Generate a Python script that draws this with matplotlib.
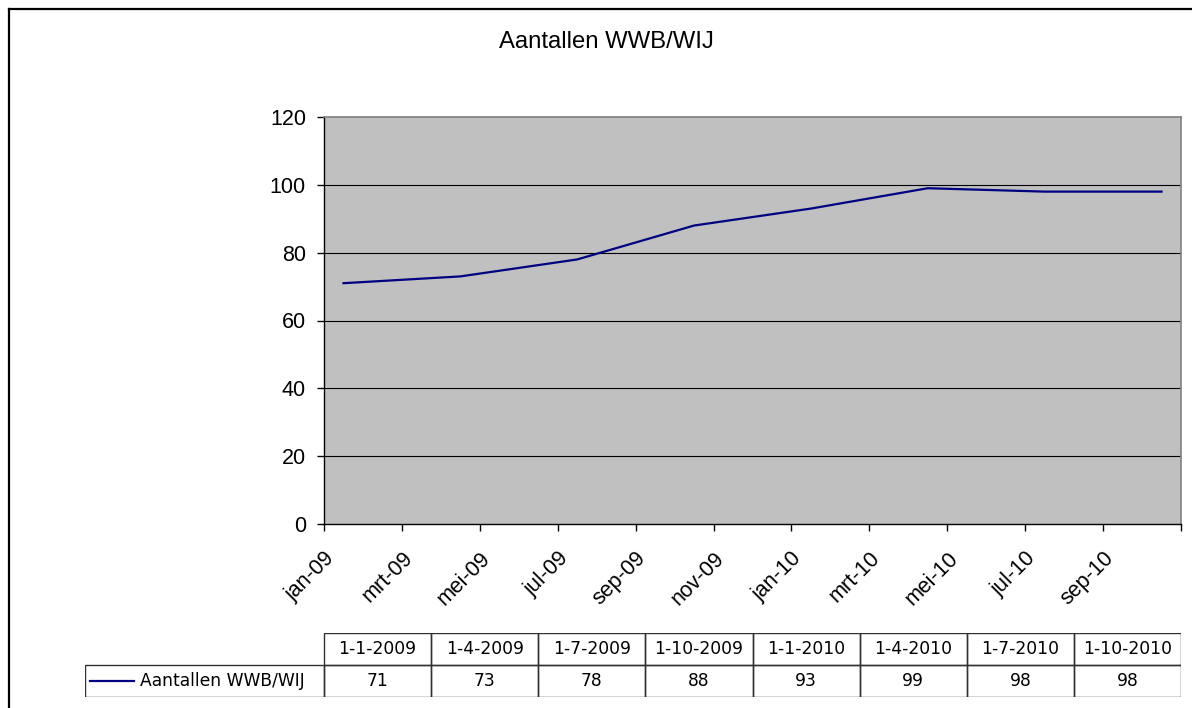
import matplotlib
matplotlib.use("Agg")
import matplotlib.pyplot as plt
from matplotlib.transforms import ScaledTranslation
from matplotlib.lines import Line2D
from matplotlib.patches import Rectangle

# ---- data ----
title = "Aantallen WWB/WIJ"
series_name = "Aantallen WWB/WIJ"
dates = ["1-1-2009", "1-4-2009", "1-7-2009", "1-10-2009",
         "1-1-2010", "1-4-2010", "1-7-2010", "1-10-2010"]
values = [71, 73, 78, 88, 93, 99, 98, 98]
month_labels = ["jan-09", "mrt-09", "mei-09", "jul-09", "sep-09", "nov-09",
                "jan-10", "mrt-10", "mei-10", "jul-10", "sep-10"]
y_ticks = [0, 20, 40, 60, 80, 100, 120]

# month slot index relative to jan-2009 (Excel date axis, base unit = month)
def month_index(d):
    day, mon, yr = (int(p) for p in d.split("-"))
    return (yr - 2009) * 12 + (mon - 1)

x_vals = [month_index(d) + 0.5 for d in dates]
n_slots = month_index(dates[-1]) + 1

W, H = 1192, 708
fig = plt.figure(figsize=(W / 100, H / 100), dpi=100)
fig.patch.set_facecolor("white")

def fx(px):
    return px / W

def fy(py):
    return 1 - py / H

# outer border (only top & left visible)
fig.add_artist(Line2D([fx(8.5), fx(8.5)], [fy(8.5), -0.05], color="black", lw=1.6,
                      transform=fig.transFigure))
fig.add_artist(Line2D([fx(8.5), 1.05], [fy(8.5), fy(8.5)], color="black", lw=1.6,
                      transform=fig.transFigure))

# title
fig.text(fx(606), fy(42), title, ha="center", va="center",
         fontsize=17.2, family="Liberation Sans")

# ---- chart ----
L, T, R, B = 324, 117, 1181, 524
ax = fig.add_axes([fx(L), fy(B), fx(R - L), (B - T) / H])
ax.set_facecolor("#C0C0C0")
ax.set_xlim(0, n_slots)
ax.set_ylim(0, 120)
ax.set_yticks(y_ticks)
ax.set_yticklabels([str(v) for v in y_ticks], fontsize=15.5, family="Liberation Sans")
for g in y_ticks[1:-1]:
    ax.axhline(g, color="black", lw=0.8, zorder=1)

ax.plot(x_vals, values, color="#000080", lw=1.6, zorder=3, solid_joinstyle="round")

for s in ["top", "right"]:
    ax.spines[s].set_color("#808080")
    ax.spines[s].set_linewidth(1.2)
for s in ["left", "bottom"]:
    ax.spines[s].set_color("black")
    ax.spines[s].set_linewidth(1.0)

ax.tick_params(axis="y", direction="out", length=5, width=1, pad=8, colors="black")
ax.set_xticks(list(range(0, n_slots + 1, 2)))
ax.set_xticklabels([])
ax.tick_params(axis="x", direction="out", length=5, width=1)

trans = ax.get_xaxis_transform() + ScaledTranslation(0.0, -0.24, fig.dpi_scale_trans)
for i, lab in enumerate(month_labels):
    ax.text(i * 2, 0, lab, transform=trans, rotation=45, ha="right", va="top",
            rotation_mode="anchor", fontsize=15.5, family="Liberation Sans")

# ---- data table (drawn as cells) ----
TL, TT, TR, TB = 85, 633, 1181, 697
tax = fig.add_axes([fx(TL), fy(TB), fx(TR - TL), (TB - TT) / H])
tax.set_axis_off()
tax.set_xlim(TL, TR)
tax.set_ylim(TB, TT)
row_mid = (TT + TB) / 2
col_w = (TR - L) / len(dates)
font_kw = dict(fontsize=12.3, family="DejaVu Sans")
edge = "#303030"
for j, d in enumerate(dates):
    x0 = L + j * col_w
    tax.add_patch(Rectangle((x0, TT), col_w, row_mid - TT, fill=False, ec=edge, lw=1))
    tax.add_patch(Rectangle((x0, row_mid), col_w, TB - row_mid, fill=False, ec=edge, lw=1))
    tax.text(x0 + col_w / 2, (TT + row_mid) / 2, d, ha="center", va="center", **font_kw)
    tax.text(x0 + col_w / 2, (row_mid + TB) / 2, str(values[j]), ha="center",
             va="center", **font_kw)
tax.add_patch(Rectangle((TL, row_mid), L - TL, TB - row_mid, fill=False, ec=edge, lw=1))

# legend key inside row label cell
ly = (row_mid + TB) / 2
tax.add_line(Line2D([90, 134], [ly, ly], color="#000080", lw=1.6))
tax.text(140, ly, series_name, ha="left", va="center", **font_kw)

fig.savefig("out.png", dpi=100)
